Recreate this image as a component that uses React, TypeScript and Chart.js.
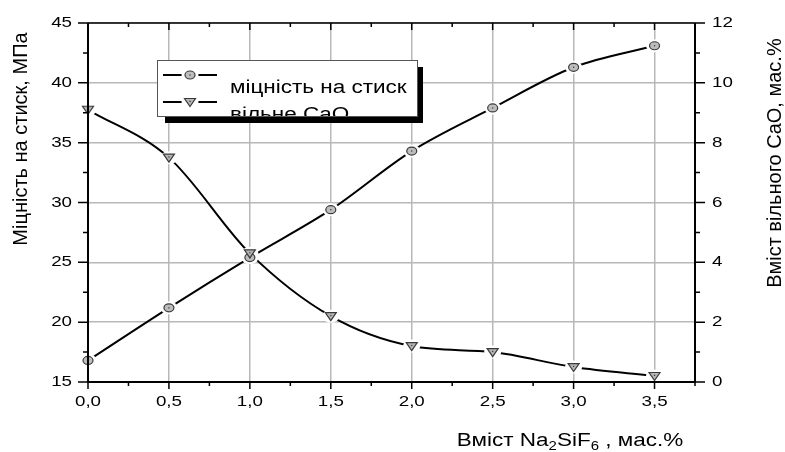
import React, { useEffect, useRef } from "react";
import { Chart, registerables } from "chart.js";

Chart.register(...registerables);

const xValues = [0, 0.5, 1.0, 1.5, 2.0, 2.5, 3.0, 3.5];
const strength = [16.8, 21.2, 25.4, 29.4, 34.3, 37.9, 41.3, 43.1];
const freeCaO = [9.1, 7.5, 4.3, 2.2, 1.2, 1.0, 0.5, 0.2];
const xMajorTicks = [0, 0.5, 1.0, 1.5, 2.0, 2.5, 3.0, 3.5];
const xMinorTicks = [0.25, 0.75, 1.25, 1.75, 2.25, 2.75, 3.25, 3.75];
const yLeftTicks = [15, 20, 25, 30, 35, 40, 45];
const yLeftMinor = [17.5, 22.5, 27.5, 32.5, 37.5, 42.5];
const yRightTicks = [0, 2, 4, 6, 8, 10, 12];
const yRightMinor = [1, 3, 5, 7, 9, 11];
const seriesLabels = ["міцність на стиск", "вільне CaO"];
const yLeftTitle = "Міцність на стиск, МПа";
const yRightTitle = "Вміст вільного CaO, мас.%";
const xTitleParts: [string, boolean][] = [
  ["Вміст Na", false],
  ["2", true],
  ["SiF", false],
  ["6", true],
  [" , мас.%", false],
];

const FONT = "'Liberation Sans', Arial, sans-serif";
const SX = 1.25;

function fmt(v: number) {
  return v.toFixed(1).replace(".", ",");
}

function drawText(
  ctx: CanvasRenderingContext2D,
  s: string,
  x: number,
  y: number,
  size: number,
  align: CanvasTextAlign,
  baseline: CanvasTextBaseline,
  sx = SX
) {
  ctx.save();
  ctx.translate(x, y);
  ctx.scale(sx, 1);
  ctx.font = `${size}px ${FONT}`;
  ctx.fillStyle = "#000";
  ctx.textAlign = align;
  ctx.textBaseline = baseline;
  ctx.fillText(s, 0, 0);
  ctx.restore();
}

function halo(ctx: CanvasRenderingContext2D, x: number, y: number) {
  ctx.save();
  ctx.fillStyle = "#fff";
  ctx.beginPath();
  ctx.ellipse(x, y, 8.5, 6.5, 0, 0, Math.PI * 2);
  ctx.fill();
  ctx.restore();
}

function circleMarker(ctx: CanvasRenderingContext2D, x: number, y: number) {
  ctx.save();
  ctx.fillStyle = "#bdbdbd";
  ctx.strokeStyle = "#3a3a3a";
  ctx.lineWidth = 1.2;
  ctx.beginPath();
  ctx.ellipse(x, y, 5, 4, 0, 0, Math.PI * 2);
  ctx.fill();
  ctx.stroke();
  ctx.fillStyle = "#333";
  ctx.fillRect(x - 0.6, y - 0.6, 1.2, 1.2);
  ctx.restore();
}

function triMarker(ctx: CanvasRenderingContext2D, x: number, y: number) {
  ctx.save();
  ctx.fillStyle = "#b5b5b5";
  ctx.strokeStyle = "#3a3a3a";
  ctx.lineWidth = 1.2;
  ctx.beginPath();
  ctx.moveTo(x - 5.5, y - 3.5);
  ctx.lineTo(x + 5.5, y - 3.5);
  ctx.lineTo(x, y + 4.5);
  ctx.closePath();
  ctx.fill();
  ctx.stroke();
  ctx.fillStyle = "#333";
  ctx.fillRect(x - 0.6, y - 1.2, 1.2, 1.2);
  ctx.restore();
}

const decorPlugin = {
  id: "decor",
  afterDraw(chart: any) {
    const ctx: CanvasRenderingContext2D = chart.ctx;
    const xs = chart.scales.x;
    const yl = chart.scales.y;
    const yr = chart.scales.y1;
    const a = chart.chartArea;

    // markers with halos
    const m0 = chart.getDatasetMeta(0).data;
    const m1 = chart.getDatasetMeta(1).data;
    [...m0, ...m1].forEach((p: any) => halo(ctx, p.x, p.y));
    m0.forEach((p: any) => circleMarker(ctx, p.x, p.y));
    m1.forEach((p: any) => triMarker(ctx, p.x, p.y));

    // frame
    ctx.save();
    ctx.strokeStyle = "#000";
    ctx.lineWidth = 2;
    ctx.beginPath();
    ctx.moveTo(a.left, a.top);
    ctx.lineTo(a.left, a.bottom);
    ctx.lineTo(a.right, a.bottom);
    ctx.lineTo(a.right, a.top);
    ctx.stroke();
    ctx.lineWidth = 1.5;
    ctx.beginPath();
    ctx.moveTo(a.left, a.top);
    ctx.lineTo(a.right, a.top);
    ctx.stroke();

    // ticks
    ctx.lineWidth = 1.5;
    ctx.beginPath();
    xMajorTicks.forEach((v) => {
      const px = xs.getPixelForValue(v);
      ctx.moveTo(px, a.bottom);
      ctx.lineTo(px, a.bottom + 7);
      ctx.moveTo(px, a.top);
      ctx.lineTo(px, a.top + 7);
    });
    xMinorTicks.forEach((v) => {
      const px = xs.getPixelForValue(v);
      ctx.moveTo(px, a.bottom);
      ctx.lineTo(px, a.bottom + 4);
      ctx.moveTo(px, a.top);
      ctx.lineTo(px, a.top + 4);
    });
    yLeftTicks.forEach((v) => {
      const py = yl.getPixelForValue(v);
      ctx.moveTo(a.left, py);
      ctx.lineTo(a.left - 10, py);
    });
    yLeftMinor.forEach((v) => {
      const py = yl.getPixelForValue(v);
      ctx.moveTo(a.left, py);
      ctx.lineTo(a.left - 5, py);
    });
    yRightTicks.forEach((v) => {
      const py = yr.getPixelForValue(v);
      ctx.moveTo(a.right, py);
      ctx.lineTo(a.right + 10, py);
    });
    yRightMinor.forEach((v) => {
      const py = yr.getPixelForValue(v);
      ctx.moveTo(a.right, py);
      ctx.lineTo(a.right + 5, py);
    });
    ctx.stroke();
    ctx.restore();

    // tick labels
    xMajorTicks.forEach((v) => {
      drawText(ctx, fmt(v), xs.getPixelForValue(v), a.bottom + 20, 15, "center", "middle");
    });
    yLeftTicks.forEach((v) => {
      drawText(ctx, String(v), a.left - 16, yl.getPixelForValue(v), 15, "right", "middle");
    });
    yRightTicks.forEach((v) => {
      drawText(ctx, String(v), a.right + 17, yr.getPixelForValue(v), 15, "left", "middle");
    });

    // axis titles
    ctx.save();
    ctx.translate(21, 139);
    ctx.rotate(-Math.PI / 2);
    ctx.font = `20px ${FONT}`;
    ctx.fillStyle = "#000";
    ctx.textAlign = "center";
    ctx.textBaseline = "middle";
    ctx.fillText(yLeftTitle, 0, 0);
    ctx.restore();

    ctx.save();
    ctx.translate(775, 163);
    ctx.rotate(-Math.PI / 2);
    ctx.font = `20px ${FONT}`;
    ctx.fillStyle = "#000";
    ctx.textAlign = "center";
    ctx.textBaseline = "middle";
    ctx.fillText(yRightTitle, 0, 0);
    ctx.restore();

    // x title with subscripts
    ctx.save();
    const mainSize = 18;
    const subSize = 12;
    let total = 0;
    xTitleParts.forEach(([s, sub]) => {
      ctx.font = `${sub ? subSize : mainSize}px ${FONT}`;
      total += ctx.measureText(s).width;
    });
    let cx = 570 - (total * SX) / 2;
    const baseY = 446;
    xTitleParts.forEach(([s, sub]) => {
      ctx.font = `${sub ? subSize : mainSize}px ${FONT}`;
      const w = ctx.measureText(s).width;
      drawText(ctx, s, cx, sub ? baseY + 4 : baseY, sub ? subSize : mainSize, "left", "alphabetic");
      cx += w * SX;
    });
    ctx.restore();

    // legend
    const bx = 157, by = 60, bw = 260, bh = 56;
    ctx.save();
    ctx.fillStyle = "#000";
    ctx.fillRect(bx + 8, by + 7, bw - 2, bh);
    ctx.fillStyle = "#fff";
    ctx.fillRect(bx, by, bw, bh);
    ctx.strokeStyle = "#555";
    ctx.lineWidth = 1;
    ctx.strokeRect(bx + 0.5, by + 0.5, bw, bh);
    ctx.beginPath();
    ctx.rect(bx + 1, by + 1, bw - 1, bh - 1);
    ctx.clip();
    const rows = [75, 102];
    rows.forEach((ry, i) => {
      ctx.strokeStyle = "#000";
      ctx.lineWidth = 2;
      ctx.beginPath();
      ctx.moveTo(163, ry);
      ctx.lineTo(217, ry);
      ctx.stroke();
      halo(ctx, 190, ry);
      if (i === 0) circleMarker(ctx, 190, ry);
      else triMarker(ctx, 190, ry);
      drawText(ctx, seriesLabels[i], 230, ry + 18, 18, "left", "alphabetic");
    });
    ctx.restore();
  },
};

export default function App() {
  const ref = useRef<HTMLCanvasElement | null>(null);
  useEffect(() => {
    if (!ref.current) return;
    const chart = new Chart(ref.current, {
      type: "line",
      data: {
        datasets: [
          {
            label: seriesLabels[0],
            data: xValues.map((x, i) => ({ x, y: strength[i] })),
            yAxisID: "y",
            borderColor: "#000",
            borderWidth: 2,
            pointRadius: 0,
            cubicInterpolationMode: "monotone",
          },
          {
            label: seriesLabels[1],
            data: xValues.map((x, i) => ({ x, y: freeCaO[i] })),
            yAxisID: "y1",
            borderColor: "#000",
            borderWidth: 2,
            pointRadius: 0,
            cubicInterpolationMode: "monotone",
          },
        ],
      },
      options: {
        responsive: false,
        animation: false,
        devicePixelRatio: 1,
        layout: { padding: { top: 23, left: 0, right: 0, bottom: 0 } },
        plugins: { legend: { display: false }, tooltip: { enabled: false } },
        scales: {
          x: {
            type: "linear",
            min: 0,
            max: 3.75,
            afterBuildTicks: (s: any) => {
              s.ticks = xMajorTicks.map((v) => ({ value: v }));
            },
            afterFit: (s: any) => {
              s.height = 70;
            },
            grid: { color: "#b8b8b8", lineWidth: 1.5, drawTicks: false },
            border: { display: false },
            ticks: { display: false },
          },
          y: {
            type: "linear",
            position: "left",
            min: 15,
            max: 45,
            afterBuildTicks: (s: any) => {
              s.ticks = yLeftTicks.map((v) => ({ value: v }));
            },
            afterFit: (s: any) => {
              s.width = 88;
            },
            grid: { color: "#b8b8b8", lineWidth: 1.5, drawTicks: false },
            border: { display: false },
            ticks: { display: false },
          },
          y1: {
            type: "linear",
            position: "right",
            min: 0,
            max: 12,
            afterBuildTicks: (s: any) => {
              s.ticks = yRightTicks.map((v) => ({ value: v }));
            },
            afterFit: (s: any) => {
              s.width = 90;
            },
            grid: { display: false, drawTicks: false },
            border: { display: false },
            ticks: { display: false },
          },
        },
      },
      plugins: [decorPlugin],
    } as any);
    return () => chart.destroy();
  }, []);
  return (
    <div style={{ position: "absolute", left: 0, top: 0, width: 785, height: 452, background: "#fff" }}>
      <canvas ref={ref} width={785} height={452} style={{ display: "block" }} />
    </div>
  );
}
